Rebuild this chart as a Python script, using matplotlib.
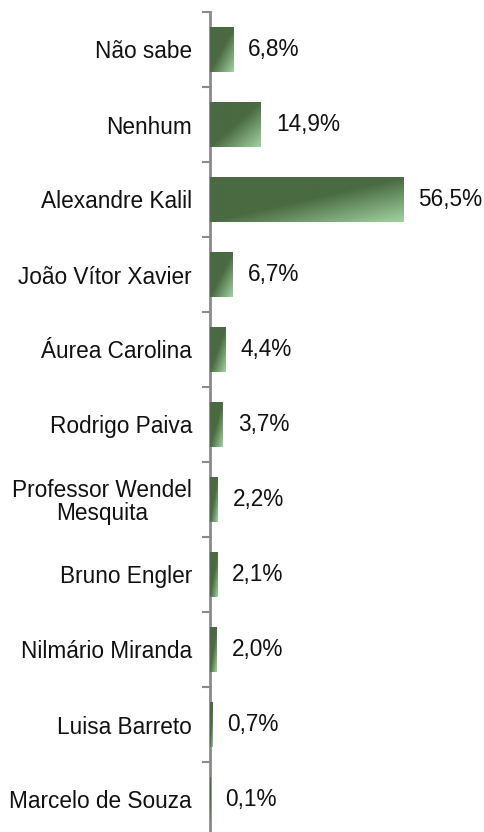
import numpy as np
import matplotlib
matplotlib.use('Agg')
import matplotlib.pyplot as plt
from matplotlib.colors import LinearSegmentedColormap

plt.rcParams['font.family'] = ['Liberation Sans', 'DejaVu Sans']

# dados
candidatos = ['Não sabe', 'Nenhum', 'Alexandre Kalil', 'João Vítor Xavier',
              'Áurea Carolina', 'Rodrigo Paiva', 'Professor Wendel\nMesquita',
              'Bruno Engler', 'Nilmário Miranda', 'Luisa Barreto',
              'Marcelo de Souza']
percentuais = [6.8, 14.9, 56.5, 6.7, 4.4, 3.7, 2.2, 2.1, 2.0, 0.7, 0.1]

escuro = '#4a6a42'
claro = '#a2d2a2'
cmap = LinearSegmentedColormap.from_list('verde', [(0, escuro), (0.5, escuro), (1, claro)])

fig = plt.figure(figsize=(4.85, 8.32), dpi=100)
ax = fig.add_axes([210 / 485, -5 / 832, 275 / 485, 825 / 832])

n = len(candidatos)
ypos = np.arange(n)[::-1]
h = 0.6
ax.barh(ypos, percentuais, height=h, color=escuro, zorder=2)

# degradê diagonal em cada barra
u = np.linspace(0, 1, 200)
v = np.linspace(0, 1, 60)
U, V = np.meshgrid(u, v)
grad = (U + V) / 2
for y, p in zip(ypos, percentuais):
    ax.imshow(grad, cmap=cmap, vmin=0, vmax=1, origin='upper', aspect='auto',
              extent=(0, p, y - h / 2, y + h / 2), zorder=3, interpolation='bilinear')

for y, p in zip(ypos, percentuais):
    txt = ('%.1f%%' % p).replace('.', ',')
    ax.annotate(txt, (p, y), xytext=(10.8, 0), textcoords='offset points',
                va='center', ha='left', fontsize=16.3, color='#111111')

ax.set_xlim(0, 275 / 3.42)
ax.set_ylim(-0.5, n - 0.5)
ax.set_yticks(ypos)
ax.set_yticklabels(candidatos, fontsize=16.3, color='#111111', multialignment='center',
                   linespacing=1.0)
ax.set_yticks(np.arange(-0.5, n, 1), minor=True)
ax.tick_params(axis='y', which='major', length=0, pad=13)
ax.tick_params(axis='y', which='minor', length=5.5, width=1.5, color='#8a8a8a', direction='out')
ax.set_xticks([])
for s in ['top', 'right', 'bottom']:
    ax.spines[s].set_visible(False)
ax.spines['left'].set_color('#8a8a8a')
ax.spines['left'].set_linewidth(2)
ax.patch.set_alpha(0)

fig.savefig('out.png', dpi=100)
